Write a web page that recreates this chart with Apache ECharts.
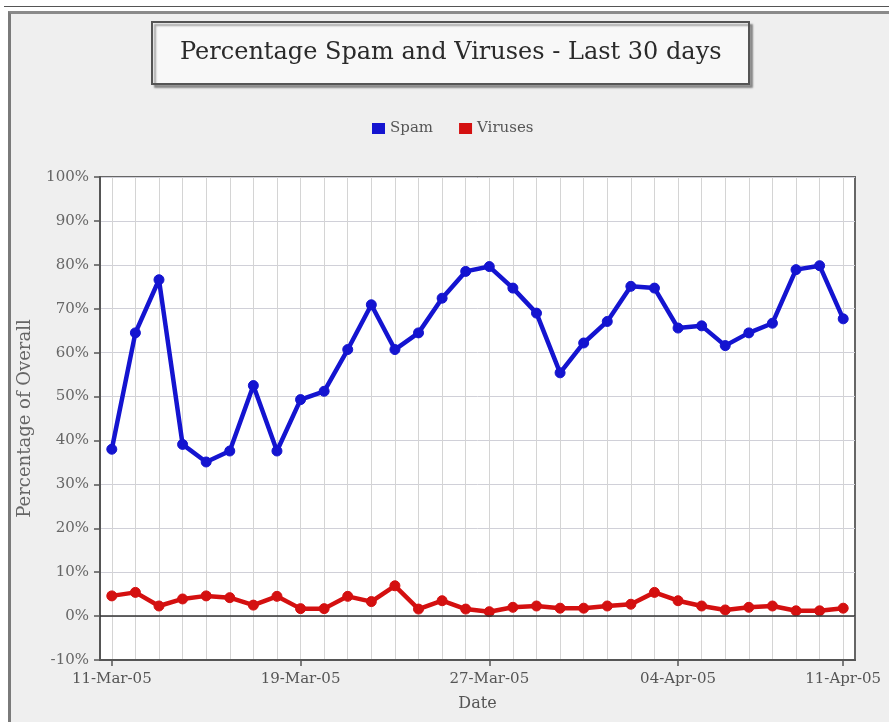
<!DOCTYPE html>
<html>
<head>
<meta charset="utf-8">
<script src="https://cdn.jsdelivr.net/npm/echarts@6/dist/echarts.min.js"></script>
<style>
  html, body { margin: 0; padding: 0; background: #ffffff; }
  #frame { position: absolute; left: 0; top: 0; width: 889px; height: 722px; background: #ffffff; }
  #panel { position: absolute; left: 8px; top: 11px; width: 881px; height: 711px; background: #efefef;
           border-left: 3px solid #7a7a7a; border-top: 3px solid #8a8a8a; box-sizing: border-box; }
  #topline { position: absolute; left: 4px; top: 6px; width: 885px; height: 1px; background: #555; }
  #chart { position: absolute; left: 0; top: 0; width: 889px; height: 722px; }
</style>
</head>
<body>
<div id="frame"><div id="topline"></div><div id="panel"></div></div>
<div id="chart"></div>
<script>
const dates = [
  '11-Mar-05','12-Mar-05','13-Mar-05','14-Mar-05','15-Mar-05','16-Mar-05','17-Mar-05','18-Mar-05',
  '19-Mar-05','20-Mar-05','21-Mar-05','22-Mar-05','23-Mar-05','24-Mar-05','25-Mar-05','26-Mar-05',
  '27-Mar-05','28-Mar-05','29-Mar-05','30-Mar-05','31-Mar-05','01-Apr-05','02-Apr-05','03-Apr-05',
  '04-Apr-05','05-Apr-05','06-Apr-05','07-Apr-05','08-Apr-05','09-Apr-05','10-Apr-05','11-Apr-05'
];
const spam = [
  38.0, 64.5, 76.6, 39.1, 35.1, 37.6, 52.5, 37.6,
  49.3, 51.2, 60.7, 70.9, 60.7, 64.5, 72.4, 78.5,
  79.6, 74.7, 69.0, 55.4, 62.2, 67.1, 75.1, 74.7,
  65.6, 66.1, 61.6, 64.5, 66.7, 78.9, 79.8, 67.7
];
const viruses = [
  4.6, 5.4, 2.3, 3.9, 4.6, 4.2, 2.5, 4.5,
  1.7, 1.7, 4.5, 3.3, 6.9, 1.6, 3.5, 1.6,
  1.0, 2.0, 2.3, 1.8, 1.8, 2.3, 2.7, 5.4,
  3.5, 2.3, 1.4, 2.0, 2.3, 1.2, 1.2, 1.8
];
const yTicks = { min: -10, max: 100, step: 10 };
const labelIdx = [0, 8, 16, 24, 31];

const serif = '"DejaVu Serif", "Liberation Serif", serif';
const chart = echarts.init(document.getElementById('chart'), null, { renderer: 'canvas' });
chart.setOption({
  backgroundColor: 'transparent',
  animation: false,
  title: {
    text: 'Percentage Spam and Viruses - Last 30 days',
    left: 152, top: 22,
    padding: [19, 28, 19, 28],
    backgroundColor: '#f8f8f8',
    borderColor: '#555',
    borderWidth: 2,
    shadowColor: 'rgba(0,0,0,0.35)',
    shadowBlur: 2,
    shadowOffsetX: 3,
    shadowOffsetY: 3,
    textStyle: { fontFamily: serif, fontSize: 24, fontWeight: 'normal', color: '#2a2a2a' }
  },
  legend: {
    top: 116, left: 367,
    itemWidth: 13, itemHeight: 11, itemGap: 26,
    icon: 'rect',
    textStyle: { fontFamily: serif, fontSize: 15, color: '#555' },
    data: ['Spam', 'Viruses']
  },
  grid: {
    left: 100, right: 34, top: 177, bottom: 62,
    show: true, backgroundColor: '#ffffff', borderColor: '#666', borderWidth: 2,
    containLabel: false
  },
  xAxis: {
    type: 'category',
    data: dates,
    boundaryGap: true,
    name: 'Date',
    nameLocation: 'middle',
    nameGap: 36,
    nameTextStyle: { fontFamily: serif, fontSize: 16, color: '#555' },
    axisLine: { show: true, onZero: false, lineStyle: { color: '#555', width: 2 } },
    axisTick: { show: true, alignWithLabel: true, length: 6, lineStyle: { color: '#555', width: 1.5 },
                interval: (i) => labelIdx.indexOf(i) >= 0 },
    axisLabel: { fontFamily: serif, fontSize: 15, color: '#555', margin: 12,
                 interval: (i) => labelIdx.indexOf(i) >= 0 },
    splitLine: { show: true, alignWithLabel: true, interval: 0, lineStyle: { color: '#d4d4d4', width: 1 } }
  },
  yAxis: {
    type: 'value',
    min: yTicks.min, max: yTicks.max, interval: yTicks.step,
    name: 'Percentage of Overall',
    nameLocation: 'middle',
    nameGap: 66,
    nameTextStyle: { fontFamily: serif, fontSize: 18, color: '#666' },
    axisLine: { show: true, lineStyle: { color: '#555', width: 2 } },
    axisTick: { show: true, length: 6, lineStyle: { color: '#555', width: 1.5 } },
    axisLabel: { fontFamily: serif, fontSize: 15, color: '#666', margin: 11, formatter: '{value}%' },
    splitLine: { show: true, lineStyle: { color: '#d0d0d8', width: 1 } }
  },
  series: [
    {
      name: 'Spam', type: 'line', data: spam,
      symbol: 'circle', symbolSize: 10,
      itemStyle: { color: '#1414d0', borderColor: '#1414d0' },
      lineStyle: { color: '#1414d0', width: 4.5 },
      z: 3
    },
    {
      name: 'Viruses', type: 'line', data: viruses,
      symbol: 'circle', symbolSize: 10,
      itemStyle: { color: '#d41010', borderColor: '#d41010' },
      lineStyle: { color: '#d41010', width: 4.5 },
      markLine: {
        silent: true, symbol: 'none', label: { show: false },
        lineStyle: { color: '#333', width: 1.5, type: 'solid' },
        data: [{ yAxis: 0 }]
      },
      z: 3
    }
  ]
});
</script>
</body>
</html>
